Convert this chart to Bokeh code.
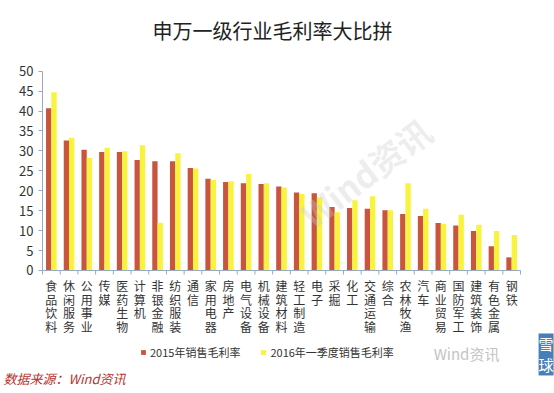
from bokeh.plotting import figure
from bokeh.models import Range1d, ColumnDataSource, Legend, LegendItem, Label, FixedTicker
from bokeh.transform import dodge
from bokeh.core.properties import value
from bokeh.embed import file_html
from bokeh.resources import INLINE

industries = ["食品饮料", "休闲服务", "公用事业", "传媒", "医药生物", "计算机", "非银金融",
              "纺织服装", "通信", "家用电器", "房地产", "电气设备", "机械设备", "建筑材料",
              "轻工制造", "电子", "采掘", "化工", "交通运输", "综合", "农林牧渔", "汽车",
              "商业贸易", "国防军工", "建筑装饰", "有色金属", "钢铁"]
margin_2015 = [40.7, 32.6, 30.3, 29.7, 29.7, 27.7, 27.4, 27.4, 25.7, 23.0, 22.2, 21.9, 21.7, 21.1,
               19.6, 19.4, 15.9, 15.7, 15.5, 15.1, 14.2, 13.7, 11.9, 11.3, 9.9, 6.1, 3.3]
margin_2016q1 = [44.7, 33.3, 28.2, 30.8, 29.9, 31.4, 12.0, 29.4, 25.6, 22.7, 22.4, 24.2, 21.9, 20.8,
                 19.2, 18.4, 14.6, 17.6, 18.6, 15.1, 21.9, 15.5, 11.7, 14.0, 11.5, 9.9, 8.9]
series_names = ["2015年销售毛利率", "2016年一季度销售毛利率"]
y_ticks = [0, 5, 10, 15, 20, 25, 30, 35, 40, 45, 50]
title_text = "申万一级行业毛利率大比拼"
source_text = "数据来源：Wind资讯"

n = len(industries)
idx = list(range(n))
labels = ["\n".join(list(s)) for s in industries]
src = ColumnDataSource(dict(idx=idx, lab=labels, a=margin_2015, b=margin_2016q1,
                            yl=[-1.75] * n))
bounds_src = ColumnDataSource(dict(bx=[i - 0.5 for i in range(n + 1)],
                                   y0=[0] * (n + 1), y1=[-1.0] * (n + 1)))

FONT = "Noto Sans CJK SC"
RED = "#C9553F"
YEL = "#F8F33C"
AX = "#9AA8C0"

p = figure(width=554, height=393,
           x_range=Range1d(-2.872, 28.42), y_range=Range1d(-30.86, 67.74),
           output_backend="svg", toolbar_location=None,
           min_border_left=0, min_border_right=0, min_border_top=0, min_border_bottom=0)

r1 = p.vbar(x=dodge("idx", -0.15), top="a", width=0.3, source=src,
            color=RED, line_color=None)
r2 = p.vbar(x=dodge("idx", 0.15), top="b", width=0.3, source=src,
            color=YEL, line_color=None)

p.text(x="idx", y="yl", text="lab", source=src, text_align="center", text_baseline="top",
       text_font=value(FONT), text_font_size="12px", text_color="#333333",
       text_line_height=0.79)

p.outline_line_color = None
p.grid.visible = False

# x axis: line at y=0, ticks between categories drawn as segments
p.xaxis.fixed_location = 0
p.xaxis.bounds = (-0.5, n - 0.5)
p.xaxis.ticker = FixedTicker(ticks=[])
p.xaxis.axis_line_color = AX
p.xaxis.major_tick_line_color = None
p.xaxis.minor_tick_line_color = None
p.segment(x0="bx", y0="y0", x1="bx", y1="y1", source=bounds_src, line_color=AX, line_width=1)

# y axis at the left edge of the first category
p.yaxis.fixed_location = -0.5
p.yaxis.bounds = (0, 50)
p.yaxis.ticker = FixedTicker(ticks=y_ticks)
p.yaxis.major_label_text_font = FONT
p.yaxis.major_label_text_font_size = "13px"
p.yaxis.major_label_text_color = "#333333"
p.yaxis.axis_line_color = AX
p.yaxis.major_tick_line_color = AX
p.yaxis.major_tick_in = 0
p.yaxis.major_tick_out = 4
p.yaxis.minor_tick_line_color = None

legend = Legend(items=[LegendItem(label=series_names[0], renderers=[r1]),
                       LegendItem(label=series_names[1], renderers=[r2])],
                orientation="horizontal", location=(140, 33),
                label_text_font=FONT, label_text_font_size="11px",
                label_text_color="#333333", glyph_width=6, glyph_height=6,
                label_standoff=4, spacing=20, border_line_color=None,
                background_fill_alpha=0, padding=2, margin=0)
p.add_layout(legend, "center")

title_src = ColumnDataSource(dict(x=[12.49], y=[60.2], t=[title_text]))
p.text(x="x", y="y", text="t", source=title_src, text_align="center", text_baseline="middle",
       text_font=value(FONT), text_font_size="20px", text_color="#222222")

src_lab = Label(x=-2.70, y=-27.1, text=source_text, text_align="left", text_baseline="middle",
                text_font=FONT, text_font_size="13px", text_font_style="italic",
                text_color="#B5322E")
p.add_layout(src_lab)

wm = Label(x=17.75, y=24.6, text="Wind资讯", angle=0.65, text_align="center",
           text_baseline="middle", text_font=FONT, text_font_size="34px",
           text_font_style="bold", text_color="#CCCCCC", text_alpha=0.35)
p.add_layout(wm)
wm2 = Label(x=23.45, y=-20.8, text="Wind资讯", text_align="center",
            text_baseline="middle", text_font=FONT, text_font_size="15px",
            text_color="#C4C4C4")
p.add_layout(wm2)
wm3 = Label(x=27.52, y=-15.8, text="雪\n球", text_align="left",
            text_baseline="top", text_font=FONT, text_font_size="15px",
            text_color="white", text_line_height=1.0,
            background_fill_color="#4A7FB5")
p.add_layout(wm3)

open("out.html", "w").write(file_html(p, INLINE))
